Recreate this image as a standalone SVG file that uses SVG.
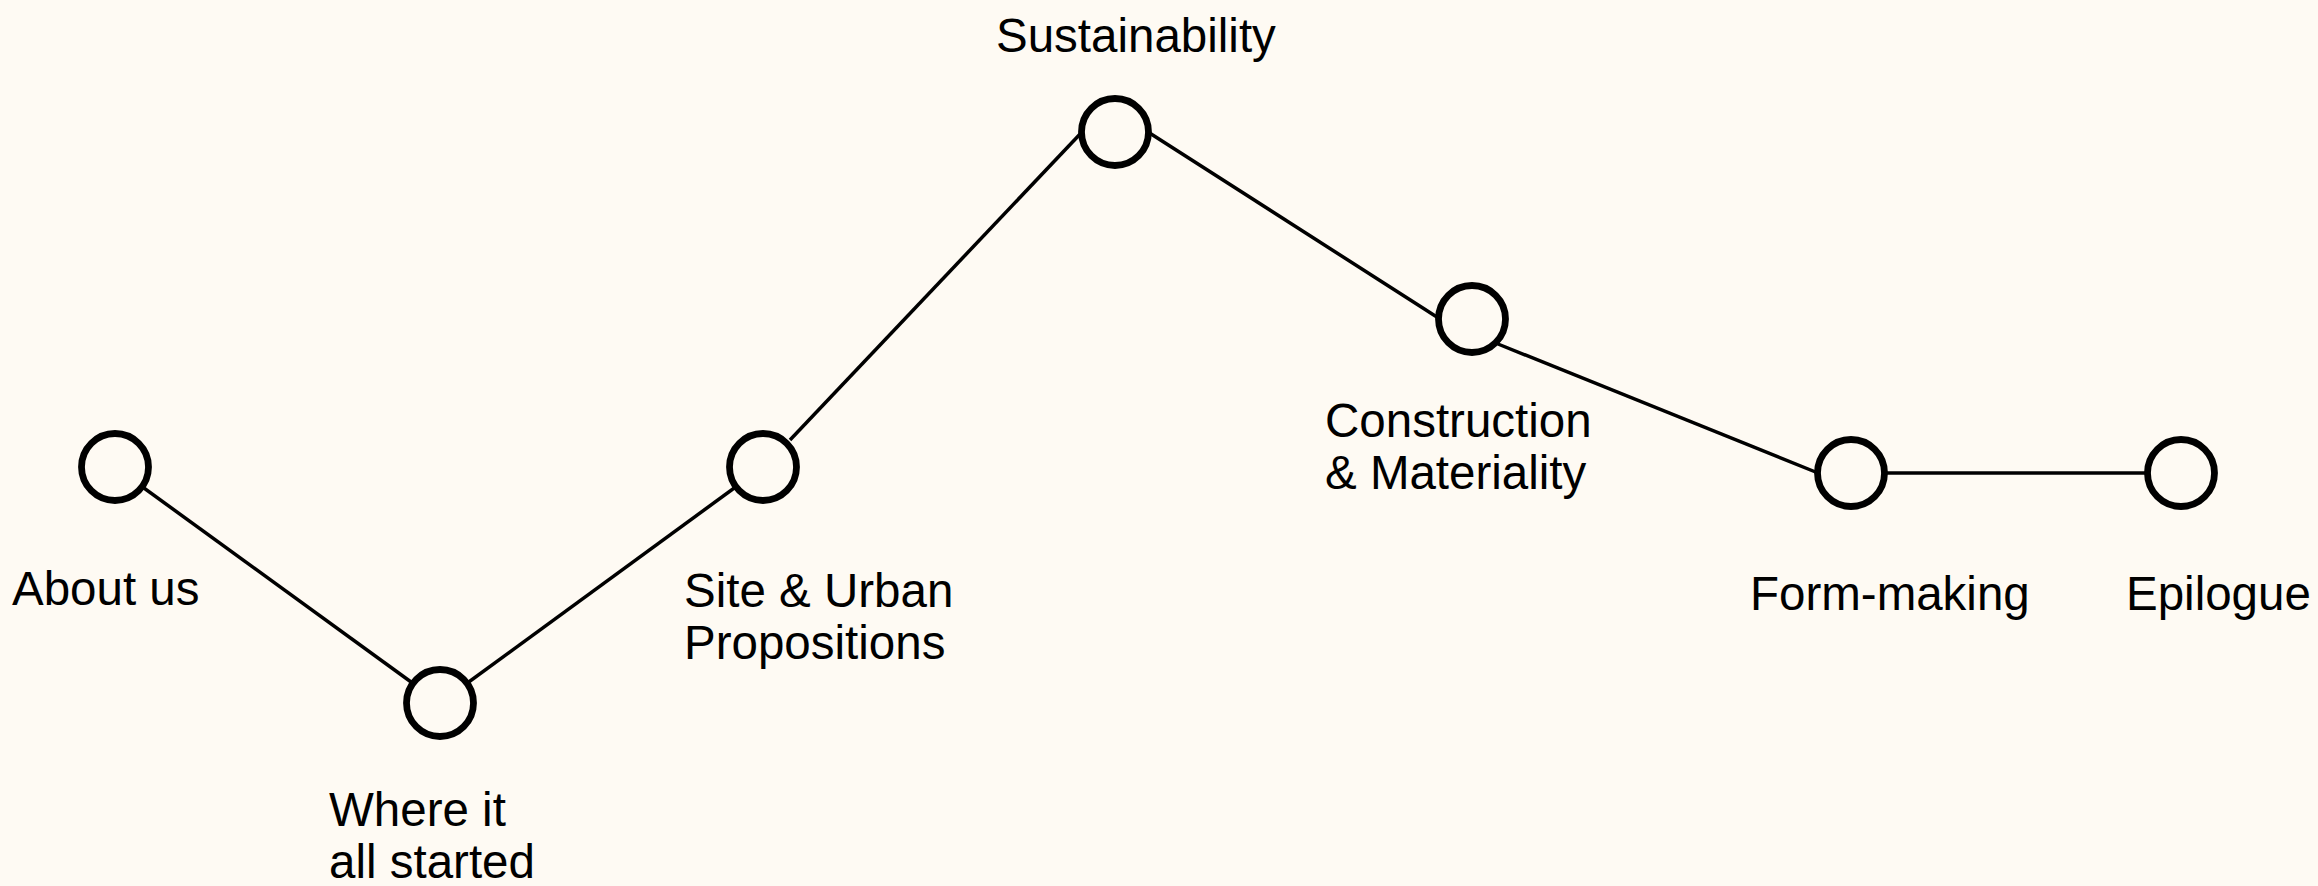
<svg xmlns="http://www.w3.org/2000/svg" width="2318" height="886" viewBox="0 0 2318 886">
<style>
.bg{fill:#fefaf3}
.node circle{fill:#fefaf3;stroke:#000;stroke-width:6.8}
.edge{stroke:#000;stroke-width:3.5;fill:none}
text{font-family:"Liberation Sans",Arial,sans-serif;font-size:47.5px;fill:#000}
</style>
<rect class="bg" x="0" y="0" width="2318" height="886"/>
<g id="connectors">
<line class="edge" x1="115" y1="467" x2="440" y2="703"/>
<line class="edge" x1="440" y1="703" x2="763" y2="467"/>
<line class="edge" x1="790" y1="440" x2="1082" y2="132"/>
<line class="edge" x1="1148" y1="132" x2="1440" y2="319"/>
<line class="edge" x1="1498" y1="344" x2="1818" y2="473"/>
<line class="edge" x1="1851" y1="473" x2="2181" y2="473"/>
</g>
<g id="about" class="node"><circle cx="115" cy="467" r="33.5"/><text x="12" y="605">About us</text></g>
<g id="started" class="node"><circle cx="440" cy="703" r="33.5"/><text x="329" y="826">Where it</text><text x="329" y="878">all started</text></g>
<g id="site" class="node"><circle cx="763" cy="467" r="33.5"/><text x="684" y="607">Site &amp; Urban</text><text x="684" y="659">Propositions</text></g>
<g id="sustainability" class="node"><circle cx="1115" cy="132" r="33.5"/><text x="996" y="52">Sustainability</text></g>
<g id="construction" class="node"><circle cx="1472" cy="319" r="33.5"/><text x="1325" y="437">Construction</text><text x="1325" y="489">&amp; Materiality</text></g>
<g id="form" class="node"><circle cx="1851" cy="473" r="33.5"/><text x="1750" y="610">Form-making</text></g>
<g id="epilogue" class="node"><circle cx="2181" cy="473" r="33.5"/><text x="2126" y="610">Epilogue</text></g>
</svg>
